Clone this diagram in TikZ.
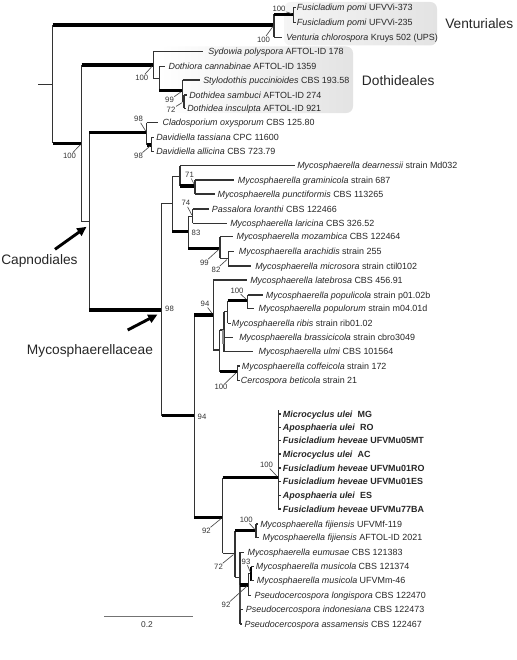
\documentclass[tikz,border=0pt]{standalone}
\usepackage{fontspec}
\setmainfont{Liberation Sans}
\usetikzlibrary{arrows.meta}
\begin{document}
\begin{tikzpicture}[x=0.75pt,y=-0.75pt,
 br/.style={line width=0.8pt, draw=black!80},
 thk/.style={line width=2.3pt, draw=black},
 tip/.style={anchor=base west, inner sep=0pt, font=\fontsize{6.7}{8}\selectfont, text=black!85},
 btip/.style={tip, font=\fontsize{6.7}{8}\selectfont\bfseries},
 bs/.style={anchor=center, inner sep=0pt, font=\fontsize{5.8}{7}\selectfont, text=black!80},
 ld/.style={line width=0.5pt, draw=black!70, shorten >=1.5pt, shorten <=0.5pt},
 grp/.style={anchor=base west, inner sep=0pt, font=\fontsize{10.3}{12}\selectfont, text=black!85},
 arr/.style={line width=2.2pt, draw=black, -{Triangle[length=7pt,width=6.5pt]}},
 ]
\useasboundingbox (0,0) rectangle (517,660);
% shaded group boxes
\shade[left color=black!4, right color=black!11, rounded corners=5pt] (284,2) rectangle (437,45.5);
\shade[left color=white, right color=black!11, rounded corners=5pt] (160,46.5) rectangle (353,113);
% ---------- coordinates ----------
\coordinate (rs) at (38.3,84.3);
\coordinate (root) at (52.7,84.3);
\coordinate (V) at (274,25);
\coordinate (Vp) at (293.3,14.3);
\coordinate (t1) at (295.5,7.5);
\coordinate (t2) at (295.5,22.3);
\coordinate (t3) at (282,37.5);
\coordinate (DC) at (81.7,143.3);
\coordinate (Dt) at (153.3,65);
\coordinate (t4) at (203.3,51.7);
\coordinate (Do) at (159.3,78.3);
\coordinate (t5) at (164.5,66.3);
\coordinate (Dd) at (182.7,90.7);
\coordinate (t6) at (200,80);
\coordinate (Ds) at (184,101.5);
\coordinate (t7) at (186.5,95);
\coordinate (t8) at (186,108.3);
\coordinate (Cap) at (89.3,221.7);
\coordinate (CD) at (146.7,132.7);
\coordinate (t9) at (157.5,122.7);
\coordinate (Dv) at (151.3,145);
\coordinate (t10) at (154,137.3);
\coordinate (t11) at (154,151.7);
\coordinate (My) at (161.7,310);
\coordinate (A) at (172.3,203.3);
\coordinate (B) at (180,176.7);
\coordinate (t12) at (295,165.7);
\coordinate (GP) at (195,186);
\coordinate (t13) at (233.5,180);
\coordinate (t14) at (215,194);
\coordinate (C) at (188.3,231.7);
\coordinate (PL) at (192.7,216.7);
\coordinate (t15) at (208.5,209);
\coordinate (t16) at (226.5,223.3);
\coordinate (D) at (220,248.3);
\coordinate (t17) at (233,236.7);
\coordinate (AM) at (228.3,258.3);
\coordinate (t18) at (234,251.7);
\coordinate (t19) at (250.5,266);
\coordinate (E) at (194.3,415.7);
\coordinate (F) at (213.3,315);
\coordinate (t20) at (246.7,280);
\coordinate (G) at (219.5,350);
\coordinate (H) at (224,330);
\coordinate (J) at (227.7,311.7);
\coordinate (P) at (247.7,300.7);
\coordinate (t21) at (263.3,295);
\coordinate (t22) at (254,308.5);
\coordinate (t23) at (230.5,323.3);
\coordinate (t24) at (233,337.3);
\coordinate (t25) at (253.3,351.7);
\coordinate (I) at (237.3,371.7);
\coordinate (t26) at (239.5,366);
\coordinate (t27) at (239.5,380.7);
\coordinate (L) at (222.7,517.3);
\coordinate (Bo) at (278.3,477.7);
\coordinate (Btop) at (278.3,410);
\coordinate (t28) at (281,414);
\coordinate (t29) at (281,427.3);
\coordinate (t30) at (281,440.7);
\coordinate (t31) at (281,454);
\coordinate (t32) at (281,468);
\coordinate (t33) at (281,481.7);
\coordinate (t34) at (281,495.7);
\coordinate (t35) at (281,509);
\coordinate (M) at (235,553.3);
\coordinate (Fj) at (256,530.7);
\coordinate (t36) at (258,524);
\coordinate (t37) at (258.5,537.7);
\coordinate (N) at (240,577.3);
\coordinate (t38) at (243.5,552.3);
\coordinate (R) at (248.3,585);
\coordinate (Q) at (251,573.7);
\coordinate (t39) at (253.5,566.7);
\coordinate (t40) at (253.5,580.7);
\coordinate (t41) at (251,595.7);
\coordinate (t42) at (242.5,609.3);
\coordinate (t43) at (242,624);
% ---------- branches ----------
\draw[br] (rs) -- (root);
\draw[br] (root |- V) -- (root |- DC);
\draw[thk] (root |- V) -- (V);
\draw[thk] (root |- DC) -- (DC);
% Venturiales
\draw[br] (V |- Vp) -- (V |- t3);
\draw[thk] (V |- Vp) -- (Vp);
\draw[br] (V |- t3) -- (t3);
\draw[br] (Vp |- t1) -- (Vp |- t2);
\draw[br] (Vp |- t1) -- (t1);
\draw[br] (Vp |- t2) -- (t2);
% Dothideales + Capnodiales
\draw[br] (DC |- Dt) -- (DC |- Cap);
\draw[thk] (DC |- Dt) -- (Dt);
\draw[br] (DC |- Cap) -- (Cap);
\draw[br] (Dt |- t4) -- (Dt |- Do);
\draw[br] (Dt |- t4) -- (t4);
\draw[br] (Dt |- Do) -- (Do);
\draw[br] (Do |- t5) -- (Do |- Dd);
\draw[br] (Do |- t5) -- (t5);
\draw[thk] (Do |- Dd) -- (Dd);
\draw[br] (Dd |- t6) -- (Dd |- Ds);
\draw[br] (Dd |- t6) -- (t6);
\draw[br] (Dd |- Ds) -- (Ds);
\draw[br] (Ds |- t7) -- (Ds |- t8);
\draw[br] (Ds |- t7) -- (t7);
\draw[br] (Ds |- t8) -- (t8);
% Capnodiales
\draw[br] (Cap |- CD) -- (Cap |- My);
\draw[thk] (Cap |- CD) -- (CD);
\draw[thk] (Cap |- My) -- (My);
\draw[br] (CD |- t9) -- (CD |- Dv);
\draw[br] (CD |- t9) -- (t9);
\draw[thk] (CD |- Dv) -- (Dv);
\draw[br] (Dv |- t10) -- (Dv |- t11);
\draw[br] (Dv |- t10) -- (t10);
\draw[br] (Dv |- t11) -- (t11);
% Mycosphaerellaceae
\draw[br] (My |- A) -- (My |- E);
\draw[br] (My |- A) -- (A);
\draw[thk] (My |- E) -- (E);
\draw[br] (A |- B) -- (A |- C);
\draw[br] (A |- B) -- (B);
\draw[thk] (A |- C) -- (C);
\draw[br] (B |- t12) -- (B |- GP);
\draw[br] (B |- t12) -- (t12);
\draw[thk] (B |- GP) -- (GP);
\draw[br] (GP |- t13) -- (GP |- t14);
\draw[br] (GP |- t13) -- (t13);
\draw[br] (GP |- t14) -- (t14);
\draw[br] (C |- PL) -- (C |- D);
\draw[br] (C |- PL) -- (PL);
\draw[thk] (C |- D) -- (D);
\draw[br] (PL |- t15) -- (PL |- t16);
\draw[br] (PL |- t15) -- (t15);
\draw[br] (PL |- t16) -- (t16);
\draw[br] (D |- t17) -- (D |- AM);
\draw[br] (D |- t17) -- (t17);
\draw[br] (D |- AM) -- (AM);
\draw[br] (AM |- t18) -- (AM |- t19);
\draw[br] (AM |- t18) -- (t18);
\draw[br] (AM |- t19) -- (t19);
\draw[br] (E |- F) -- (E |- L);
\draw[thk] (E |- F) -- (F);
\draw[thk] (E |- L) -- (L);
\draw[br] (F |- t20) -- (F |- G);
\draw[br] (F |- t20) -- (t20);
\draw[br] (F |- G) -- (G);
\draw[br] (G |- H) -- (G |- I);
\draw[br] (G |- H) -- (H);
\draw[thk] (G |- I) -- (I);
\draw[br] (H |- J) -- (H |- t25);
\draw[line width=1.8pt, draw=black!45] (222.8,330) -- (222.8,344);
\draw[br] (H |- J) -- (J);
\draw[br] (H |- t24) -- (t24);
\draw[br] (H |- t25) -- (t25);
\draw[br] (J |- P) -- (J |- t23);
\draw[thk] (J |- P) -- (P);
\draw[br] (J |- t23) -- (t23);
\draw[br] (P |- t21) -- (P |- t22);
\draw[br] (P |- t21) -- (t21);
\draw[br] (P |- t22) -- (t22);
\draw[br] (I |- t26) -- (I |- t27);
\draw[br] (I |- t26) -- (t26);
\draw[br] (I |- t27) -- (t27);
\draw[br] (L |- Bo) -- (L |- M);
\draw[thk] (L |- Bo) -- (Bo);
\draw[br] (L |- M) -- (M);
\draw[br] (Btop) -- (Bo |- t35);
\foreach \k in {28,...,35} { \draw[br] (Bo |- t\k) -- (t\k); }
\draw[br] (M |- Fj) -- (M |- N);
\draw[thk] (M |- Fj) -- (Fj);
\draw[br] (M |- N) -- (N);
\draw[br] (Fj |- t36) -- (Fj |- t37);
\draw[br] (Fj |- t36) -- (t36);
\draw[br] (Fj |- t37) -- (t37);
\draw[br] (N |- t38) -- (N |- t43);
\draw[line width=1.7pt, draw=black!70] (N |- R) -- (240,610);
\draw[br] (N |- t38) -- (t38);
\draw[thk] (N |- R) -- (R);
\draw[br] (N |- t42) -- (t42);
\draw[br] (N |- t43) -- (t43);
\draw[br] (R |- Q) -- (R |- t41);
\draw[br] (R |- Q) -- (Q);
\draw[br] (R |- t41) -- (t41);
\draw[line width=1.8pt, draw=black] (Q |- t39) -- (Q |- t40);
\draw[br] (Q |- t39) -- (t39);
\draw[br] (Q |- t40) -- (t40);
% ---------- tip labels ----------
\node[tip] (n1) at (296.7,10.7) {\textit{Fusicladium pomi} UFVVi-373};
\node[tip] (n2) at (296.7,25.5) {\textit{Fusicladium pomi} UFVVi-235};
\node[tip] (n3) at (286,40.7) {\textit{Venturia chlorospora} Kruys 502 (UPS)};
\node[tip] (n4) at (208,54.9) {\textit{Sydowia polyspora} AFTOL-ID 178};
\node[tip] (n5) at (168.3,69.5) {\textit{Dothiora cannabinae} AFTOL-ID 1359};
\node[tip] (n6) at (203,83.2) {\textit{Stylodothis puccinioides} CBS 193.58};
\node[tip] (n7) at (189,98.2) {\textit{Dothidea sambuci} AFTOL-ID 274};
\node[tip] (n8) at (187,111.5) {\textit{Dothidea insculpta} AFTOL-ID 921};
\node[tip] (n9) at (162.3,125.9) {\textit{Cladosporium oxysporum} CBS 125.80};
\node[tip] (n10) at (156,140.5) {\textit{Davidiella tassiana} CPC 11600};
\node[tip] (n11) at (156,154.9) {\textit{Davidiella allicina} CBS 723.79};
\node[tip] (n12) at (297,168.9) {\textit{Mycosphaerella dearnessii} strain Md032};
\node[tip] (n13) at (237.7,183.2) {\textit{Mycosphaerella graminicola} strain 687};
\node[tip] (n14) at (217.3,197.2) {\textit{Mycosphaerella punctiformis} CBS 113265};
\node[tip] (n15) at (211.7,212.2) {\textit{Passalora loranthi} CBS 122466};
\node[tip] (n16) at (230,226.5) {\textit{Mycosphaerella laricina} CBS 326.52};
\node[tip] (n17) at (236.3,239.9) {\textit{Mycosphaerella mozambica} CBS 122464};
\node[tip] (n18) at (238.7,254.9) {\textit{Mycosphaerella arachidis} strain 255};
\node[tip] (n19) at (255,269.2) {\textit{Mycosphaerella microsora} strain ctil0102};
\node[tip] (n20) at (250,283.2) {\textit{Mycosphaerella latebrosa} CBS 456.91};
\node[tip] (n21) at (265.7,298.2) {\textit{Mycosphaerella populicola} strain p01.02b};
\node[tip] (n22) at (258.3,311.7) {\textit{Mycosphaerella populorum} strain m04.01d};
\node[tip] (n23) at (231.7,326.5) {\textit{Mycosphaerella ribis} strain rib01.02};
\node[tip] (n24) at (239,340.5) {\textit{Mycosphaerella brassicicola} strain cbro3049};
\node[tip] (n25) at (258.3,354.9) {\textit{Mycosphaerella ulmi} CBS 101564};
\node[tip] (n26) at (241.7,369.2) {\textit{Mycosphaerella coffeicola} strain 172};
\node[tip] (n27) at (240.7,383.9) {\textit{Cercospora beticola} strain 21};
\node[btip] (n28) at (282.7,417.2) {\textit{Microcyclus ulei}\ \ MG};
\node[btip] (n29) at (282.7,430.5) {\textit{Aposphaeria ulei}\ \ RO};
\node[btip] (n30) at (282.7,443.9) {\textit{Fusicladium heveae} UFVMu05MT};
\node[btip] (n31) at (282.7,457.2) {\textit{Microcyclus ulei}\ \ AC};
\node[btip] (n32) at (282.7,471.2) {\textit{Fusicladium heveae} UFVMu01RO};
\node[btip] (n33) at (282.7,484.9) {\textit{Fusicladium heveae} UFVMu01ES};
\node[btip] (n34) at (282.7,498.9) {\textit{Aposphaeria ulei}\ \ ES};
\node[btip] (n35) at (282.7,512.2) {\textit{Fusicladium heveae} UFVMu77BA};
\node[tip] (n36) at (260,527.2) {\textit{Mycosphaerella fijiensis} UFVMf-119};
\node[tip] (n37) at (262.3,540.9) {\textit{Mycosphaerella fijiensis} AFTOL-ID 2021};
\node[tip] (n38) at (247.3,555.5) {\textit{Mycosphaerella eumusae} CBS 121383};
\node[tip] (n39) at (255.7,569.9) {\textit{Mycosphaerella musicola} CBS 121374};
\node[tip] (n40) at (256.7,583.9) {\textit{Mycosphaerella musicola} UFVMm-46};
\node[tip] (n41) at (254.3,598.9) {\textit{Pseudocercospora longispora} CBS 122470};
\node[tip] (n42) at (245.7,612.5) {\textit{Pseudocercospora indonesiana} CBS 122473};
\node[tip] (n43) at (244.3,627.2) {\textit{Pseudocercospora assamensis} CBS 122467};
% ---------- bootstrap values ----------
\node[bs] (b1) at (279,9.3) {100};      \draw[ld] (b1) -- (Vp);
\node[bs] (b2) at (263.5,39.5) {100};   \draw[ld] (b2) -- (V);
\node[bs] (b3) at (141.7,77.7) {100};   \draw[ld] (b3) -- (Dt);
\node[bs] (b4) at (169.5,100) {99};     \draw[ld] (b4) -- (Dd);
\node[bs] (b5) at (171,109.5) {72};     \draw[ld] (b5) -- (Ds);
\node[bs] (b6) at (138.5,119.3) {98};   \draw[ld] (b6) -- (CD);
\node[bs] (b7) at (138.5,156) {98};     \draw[ld] (b7) -- (Dv);
\node[bs] (b8) at (69.5,156) {100};     \draw[ld] (b8) -- (DC);
\node[bs] (b9) at (189.5,175) {71};     \draw[ld] (b9) -- (GP);
\node[bs] (b10) at (185.8,203.3) {74};  \draw[ld] (b10) -- (PL);
\node[bs] (b11) at (196,233.3) {83};
\node[bs] (b12) at (204.3,262.7) {99};  \draw[ld] (b12) -- (D);
\node[bs] (b13) at (216,269.5) {82};    \draw[ld] (b13) -- (AM);
\node[bs] (b14) at (169.5,308.5) {98};
\node[bs] (b15) at (205,304) {94};      \draw[ld] (b15) -- (F);
\node[bs] (b16) at (237,290.7) {100};   \draw[ld] (b16) -- (P);
\node[bs] (b17) at (221,387.3) {100};   \draw[ld] (b17) -- (I);
\node[bs] (b18) at (202,417) {94};
\node[bs] (b19) at (266.5,465) {100};   \draw[ld] (b19) -- (Bo);
\node[bs] (b20) at (206.3,530.7) {92};  \draw[ld] (b20) -- (L);
\node[bs] (b21) at (246.3,520) {100};   \draw[ld] (b21) -- (Fj);
\node[bs] (b22) at (218.5,566.7) {72};  \draw[ld] (b22) -- (M);
\node[bs] (b23) at (246,561.7) {93};    \draw[ld] (b23) -- (Q);
\node[bs] (b24) at (226,605) {92};      \draw[ld] (b24) -- (R);
% ---------- group labels ----------
\node[grp] (gV) at (445,28.3) {Venturiales};
\node[grp] (gD) at (361.7,85) {Dothideales};
\node[grp] (gC) at (1,264.3) {Capnodiales};
\node[grp] (gM) at (26.7,354.3) {Mycosphaerellaceae};
\coordinate (cA) at (55,249.3);
\coordinate (cT) at (86.5,226.8);
\draw[arr] (cA) -- (cT);
\coordinate (mA) at (127.7,330);
\coordinate (mT) at (157.5,314.5);
\draw[arr] (mA) -- (mT);
% ---------- scale bar ----------
\coordinate (s1) at (104,616.7);
\coordinate (s2) at (192.7,616.7);
\draw[line width=0.8pt, draw=black!55] (s1) -- (s2);
\node[anchor=center, inner sep=0pt, font=\fontsize{6.3}{7}\selectfont, text=black!80] (sc) at (147,624.5) {0.2};
\end{tikzpicture}
\end{document}
